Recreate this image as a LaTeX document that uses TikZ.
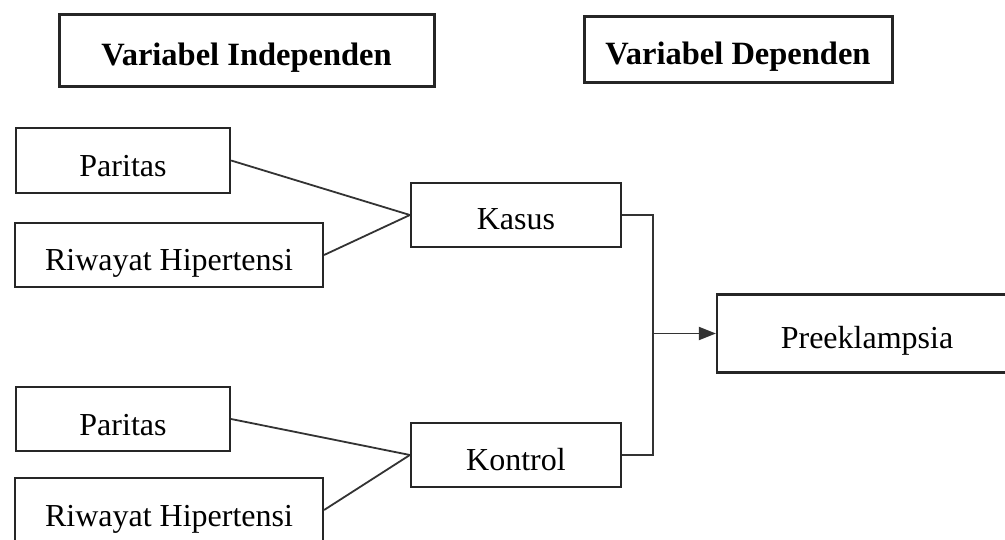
\documentclass[tikz,border=0pt]{standalone}
\usepackage{fontspec}
\setmainfont{Liberation Serif}
\usetikzlibrary{arrows.meta}
\begin{document}
\begin{tikzpicture}[x=1pt,y=-1pt,
  box/.style={draw=black!85, line width=2.2pt, minimum width=#1, inner sep=0pt,
    text height=32pt, text depth=0pt,
    font=\fontsize{32}{36}\selectfont},
  hdr/.style={draw=black!85, line width=3pt, minimum width=#1, inner sep=0pt,
    text height=30pt, text depth=0pt,
    font=\fontsize{32.5}{36}\selectfont\bfseries},
  link/.style={draw=black!80, line width=1.8pt},
  arr/.style={link, -{Triangle[length=17pt,width=13pt]}}]
\useasboundingbox (0,0) rectangle (1005,540);
\clip (0,0) rectangle (1005,540);
% headers
\node[hdr=375, minimum height=72pt] (vi) at (246.5,51) {Variabel Independen};
\node[hdr=308, minimum height=66pt] (vd) at (738,50) {Variabel Dependen};
% left boxes (top)
\node[box=214, minimum height=65pt] (p1) at (123,160.5) {Paritas};
\node[box=308, minimum height=64pt] (r1) at (169,255) {Riwayat Hipertensi};
% left boxes (bottom)
\node[box=214, minimum height=64pt] (p2) at (123,419) {Paritas};
\node[box=308, minimum height=64pt] (r2) at (169,510) {Riwayat Hipertensi};
% middle
\node[box=210, minimum height=64pt, text height=30pt] (kasus) at (516,215) {Kasus};
\node[box=210, minimum height=64pt, text height=30pt] (kontrol) at (516,455) {Kontrol};
% right
\node[box=300, minimum height=78pt, text height=30pt] (pre) at (867,333.5) {Preeklampsia};
% connectors
\draw[link] (p1.east) -- (kasus.west);
\draw[link] (r1.east) -- (kasus.west);
\draw[link] (p2.east) -- (kontrol.west);
\draw[link] (r2.east) -- (kontrol.west);
\coordinate (bus) at (653,333.5);
\draw[link] (kasus.east) -| (bus) |- (kontrol.east);
\draw[arr] (bus) -- (pre.west);
\end{tikzpicture}
\end{document}
